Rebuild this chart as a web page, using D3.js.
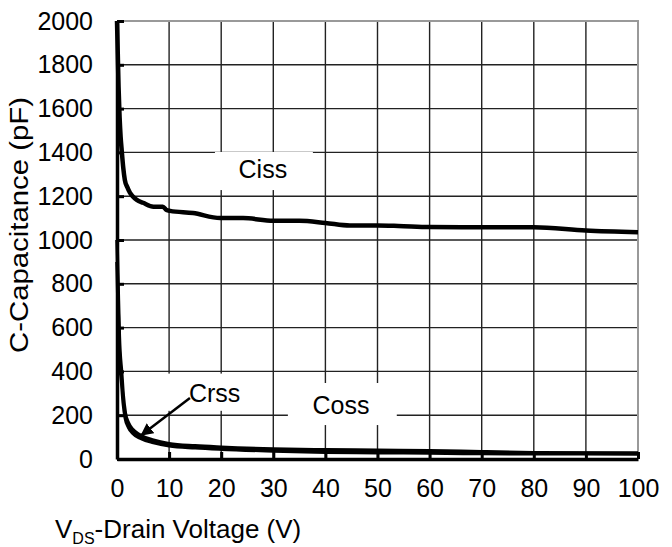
<!DOCTYPE html>
<html>
<head>
<meta charset="utf-8">
<script src="https://cdn.jsdelivr.net/npm/d3@7"></script>
<style>
  body { margin: 0; background: #fff; }
  text { font-family: "Liberation Sans", Arial, sans-serif; fill: #000; }
</style>
</head>
<body>
<script>
// capacitance vs drain voltage
var voltage = [0, 0.15, 0.3, 0.5, 0.7, 0.9, 1.2, 1.5, 2, 2.5, 3, 3.8, 5, 7, 8.8, 9.5, 10.2, 14.6, 19.8, 24.2, 30, 35, 40, 44.7, 50, 54, 60, 70, 80, 90, 100];
var ciss = [2000, 1850, 1700, 1560, 1470, 1410, 1330, 1275, 1240, 1215, 1200, 1183, 1170, 1152, 1152, 1137, 1133, 1123, 1100, 1100, 1088, 1088, 1078, 1066, 1066, 1064, 1059, 1058, 1058, 1043, 1035];

var voltageLow = [0, 0.2, 0.45, 0.9, 1.2, 1.6, 2.2, 3, 4.4, 7, 10, 15, 20, 30, 40, 50, 60, 70, 80, 100];
var coss = [1000, 800, 560, 393, 290, 210, 165, 135, 110, 86, 70, 60, 54, 46, 42, 40, 38, 33, 29, 27];
var crss = [900, 700, 490, 345, 255, 185, 145, 118, 96, 75, 60, 51, 45, 37, 31, 29, 27, 25, 24, 23];

var xTicks = [0, 10, 20, 30, 40, 50, 60, 70, 80, 90, 100];
var yTicks = [0, 200, 400, 600, 800, 1000, 1200, 1400, 1600, 1800, 2000];

var w = 672, h = 547;
var pLeft = 117, pRight = 638, pTop = 21, pBottom = 459; // plot box

var svg = d3.select("body").append("svg")
  .attr("width", w)
  .attr("height", h);

var x = d3.scaleLinear().domain([0, 100]).range([pLeft, pRight]);
var y = d3.scaleLinear().domain([0, 2000]).range([pBottom, pTop]);

// grid
svg.append("g").selectAll("line")
  .data(xTicks.slice(1, -1))
  .enter().append("line")
  .attr("x1", function(d) { return x(d); })
  .attr("x2", function(d) { return x(d); })
  .attr("y1", pTop)
  .attr("y2", pBottom)
  .attr("stroke", "#222")
  .attr("stroke-width", 1.4);

svg.append("g").selectAll("line")
  .data(yTicks.slice(1, -1))
  .enter().append("line")
  .attr("x1", pLeft)
  .attr("x2", pRight)
  .attr("y1", function(d) { return y(d); })
  .attr("y2", function(d) { return y(d); })
  .attr("stroke", "#222")
  .attr("stroke-width", 1.4);

// top and right border are grey
svg.append("path")
  .attr("d", "M" + pLeft + "," + pTop + "H" + pRight + "V" + pBottom)
  .attr("fill", "none")
  .attr("stroke", "#999")
  .attr("stroke-width", 2);

// white boxes behind the labels (in data units)
var boxes = [
  { v0: 18.8, v1: 37.6, c0: 1228, c1: 1402 },
  { v0: 9.2, v1: 28.5, c0: 220, c1: 390 },
  { v0: 32.8, v1: 53.7, c0: 155, c1: 347 }
];
svg.append("g").selectAll("rect")
  .data(boxes)
  .enter().append("rect")
  .attr("x", function(d) { return x(d.v0); })
  .attr("y", function(d) { return y(d.c1); })
  .attr("width", function(d) { return x(d.v1) - x(d.v0); })
  .attr("height", function(d) { return y(d.c0) - y(d.c1); })
  .attr("fill", "#fff");

// curves
var line = d3.line()
  .x(function(d) { return x(d[0]); })
  .y(function(d) { return y(d[1]); })
  .curve(d3.curveMonotoneX);

svg.append("path")
  .datum(d3.zip(voltage, ciss))
  .attr("d", line)
  .attr("fill", "none")
  .attr("stroke", "#000")
  .attr("stroke-width", 4.5);

svg.append("path")
  .datum(d3.zip(voltageLow, coss))
  .attr("d", line)
  .attr("fill", "none")
  .attr("stroke", "#000")
  .attr("stroke-width", 3.5);

svg.append("path")
  .datum(d3.zip(voltageLow, crss))
  .attr("d", line)
  .attr("fill", "none")
  .attr("stroke", "#000")
  .attr("stroke-width", 3.5);

// axes
var yAxis = svg.append("g")
  .attr("transform", "translate(" + pLeft + ",0)")
  .call(d3.axisLeft(y).tickValues(yTicks).tickFormat(d3.format("d"))
    .tickSizeInner(-7).tickSizeOuter(0).tickPadding(24));
var xAxis = svg.append("g")
  .attr("transform", "translate(0," + pBottom + ")")
  .call(d3.axisBottom(x).tickValues(xTicks).tickFormat(d3.format("d"))
    .tickSizeInner(-7).tickSizeOuter(0).tickPadding(20));

[yAxis, xAxis].forEach(function(a) {
  a.select(".domain").attr("stroke", "#000").attr("stroke-width", 3.5);
  a.selectAll(".tick line").attr("stroke", "#000").attr("stroke-width", 3);
  a.selectAll(".tick text").attr("font-size", 25).attr("fill", "#000");
  a.attr("font-family", null);
});

// labels
svg.append("text")
  .attr("x", x(28))
  .attr("y", y(1283))
  .attr("text-anchor", "middle")
  .attr("font-size", 25)
  .text("Ciss");

svg.append("text")
  .attr("x", x(43))
  .attr("y", y(205))
  .attr("text-anchor", "middle")
  .attr("font-size", 25)
  .text("Coss");

svg.append("text")
  .attr("x", x(13.8))
  .attr("y", y(262))
  .attr("font-size", 25)
  .text("Crss");

// arrow to the Crss curve
svg.append("defs").append("marker")
  .attr("id", "head")
  .attr("viewBox", "0 0 10 10")
  .attr("refX", 9)
  .attr("refY", 5)
  .attr("markerWidth", 5)
  .attr("markerHeight", 5)
  .attr("orient", "auto")
  .append("path")
  .attr("d", "M0,0L10,5L0,10Z")
  .attr("fill", "#000");

svg.append("line")
  .attr("x1", x(14))
  .attr("y1", y(278))
  .attr("x2", x(4.7))
  .attr("y2", y(110))
  .attr("stroke", "#000")
  .attr("stroke-width", 2.5)
  .attr("marker-end", "url(#head)");

// axis titles
svg.append("text")
  .attr("transform", "translate(28,225) rotate(-90)")
  .attr("text-anchor", "middle")
  .attr("font-size", 26)
  .attr("textLength", 256)
  .attr("lengthAdjust", "spacingAndGlyphs")
  .text("C-Capacitance (pF)");

var xt = svg.append("text")
  .attr("x", 55)
  .attr("y", 538)
  .attr("font-size", 26);
xt.append("tspan").text("V");
xt.append("tspan").attr("font-size", 16).attr("dy", 6).text("DS");
xt.append("tspan").attr("dy", -6).text("-Drain Voltage (V)");
</script>
</body>
</html>
